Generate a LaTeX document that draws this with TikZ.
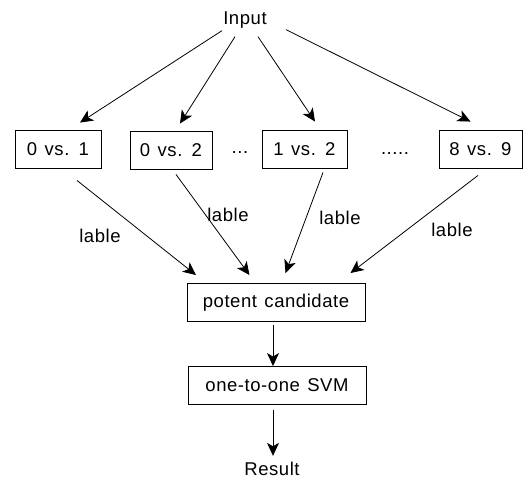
\documentclass[tikz,border=0pt]{standalone}
\usepackage{fontspec}
\setmainfont{Liberation Sans}[LetterSpace=3,WordSpace=1.3]
\usetikzlibrary{arrows.meta}

\tikzset{every picture/.style={line width=0.75pt}}
\tikzset{
  box/.style={draw,line width=0.9pt,minimum height=38pt,inner sep=0pt},
  wide/.style={box,minimum width=178pt},
  txt/.style={inner sep=1pt},
  arr/.style={-{Stealth[length=13pt,width=12pt,inset=3.5pt]},line width=0.8pt}
}

\begin{document}
\begin{tikzpicture}[x=1pt,y=1pt,yscale=-1,font=\fontsize{18.5}{22}\selectfont]
\useasboundingbox (0,0) rectangle (527,479);

% Text Node
\node [txt] (inp) at (245,20) {Input};
% Boxes
\node [box,minimum width=86pt] (b01) at (58,149) {0 vs. 1};
\node [box,minimum width=82pt] (b02) at (171,150) {0 vs. 2};
\node [box,minimum width=85pt] (b12) at (304.5,149) {1 vs. 2};
\node [box,minimum width=83pt] (b89) at (480.5,149) {8 vs. 9};
\node [txt] (dd1) at (240,153) {...};
\node [txt] (dd2) at (395,154) {.....};
\node [wide] (pc) at (276,302.5) {potent candidate};
\node [wide] (svm) at (277,385.5) {one-to-one SVM};
% Text Node
\node [txt] (res) at (272,469) {Result};

%Straight Lines from input
\draw [arr] ([xshift=-23pt,yshift=1pt]inp.south) -- ([shift={(22pt,-7pt)}]b01.north);
\draw [arr] ([xshift=-10pt,yshift=7pt]inp.south) -- ([shift={(9pt,-7pt)}]b02.north);
\draw [arr] ([xshift=13pt,yshift=7pt]inp.south) -- ([shift={(10.5pt,-8pt)}]b12.north);
\draw [arr] ([xshift=41pt,yshift=0pt]inp.south) -- ([shift={(-10pt,-8pt)}]b89.north);

%Straight Lines into candidate box
\draw [arr] ([shift={(19pt,12pt)}]b01.south) -- ([shift={(-80pt,-8pt)}]pc.north);
\draw [arr] ([shift={(5pt,5pt)}]b02.south) -- ([shift={(-26.5pt,-8pt)}]pc.north);
\draw [arr] ([shift={(18.5pt,4pt)}]b12.south) -- ([shift={(9.5pt,-10pt)}]pc.north);
\draw [arr] ([shift={(-2.5pt,7pt)}]b89.south) -- ([shift={(74.5pt,-10pt)}]pc.north);

%Straight Lines down
\draw [arr] ([shift={(-3pt,3pt)}]pc.south) -- ([xshift=-4pt]svm.north);
\draw [arr] ([shift={(-4pt,5pt)}]svm.south) -- ([shift={(1pt,-5pt)}]res.north);

% Text Node
\node [txt] (l1) at (100,236) {lable};
\node [txt] (l2) at (228,215) {lable};
\node [txt] (l3) at (340,218) {lable};
\node [txt] (l4) at (452,230) {lable};
\end{tikzpicture}
\end{document}
